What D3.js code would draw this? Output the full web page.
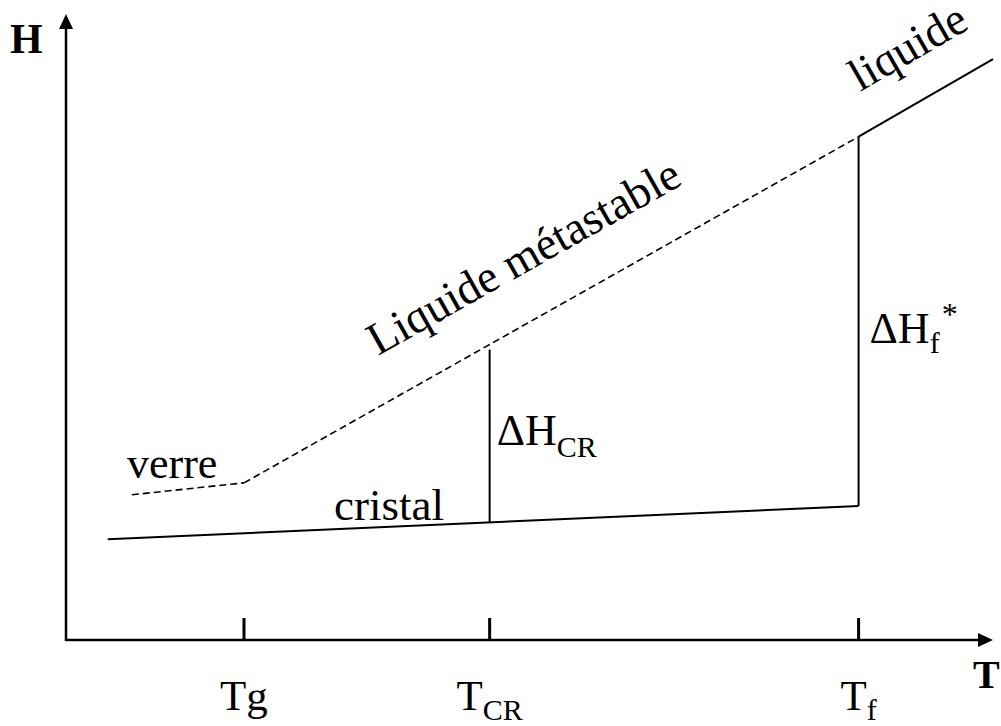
<!DOCTYPE html>
<html>
<head>
<meta charset="utf-8">
<script src="https://d3js.org/d3.v7.min.js"></script>
<style>
  html, body { margin: 0; padding: 0; background: #fff; }
  svg { display: block; }
</style>
</head>
<body>
<svg id="chart" width="1001" height="726" font-family="'Liberation Serif', 'Times New Roman', Times, 'DejaVu Serif', serif"></svg>
<script>
// Enthalpy H versus temperature T (arbitrary units, 0–100 on both axes)
const tickNames = ["Tg", "T_CR", "T_f"];
const tickValues = [19.2, 45.7, 85.5];

// Stable crystal branch
const crystal = [[4.5, 16.1], [85.5, 21.4]];
// Glass branch below Tg
const glass = [[7.1, 23.2], [19.2, 25.1]];
// Supercooled (metastable) liquid between Tg and Tf
const metastable = [[19.2, 25.1], [85.5, 80.4]];
// Stable liquid above Tf
const liquid = [[85.5, 80.4], [100, 92.8]];
// Enthalpy jumps: [T, H crystal, H liquid]
const deltaCR = [45.7, 18.8, 46.4];
const deltaF = [85.5, 21.4, 80.4];

const FONT = "'Liberation Serif', 'Times New Roman', Times, 'DejaVu Serif', serif";
const svg = d3.select("#chart");
const x = d3.scaleLinear().domain([0, 100]).range([66, 993]);
const y = d3.scaleLinear().domain([0, 100]).range([640, 14]);
const line = d3.line().x(d => x(d[0])).y(d => y(d[1]));

const label = (sel) => sel.append("text").attr("font-family", FONT).attr("fill", "#000");

// Axes with arrowheads
const x0 = x(0), y0 = y(0);
svg.append("line").attr("x1", x0).attr("y1", y0).attr("x2", x(100) - 12).attr("y2", y0)
  .attr("stroke", "#000").attr("stroke-width", 2.5);
svg.append("line").attr("x1", x0).attr("y1", y0 + 1).attr("x2", x0).attr("y2", y(100) + 12)
  .attr("stroke", "#000").attr("stroke-width", 2.5);
svg.append("path")
  .attr("d", `M${x(100)},${y0} L${x(100) - 15},${y0 - 7} L${x(100) - 15},${y0 + 7} Z`)
  .attr("fill", "#000");
svg.append("path")
  .attr("d", `M${x0},${y(100)} L${x0 - 7},${y(100) + 15} L${x0 + 7},${y(100) + 15} Z`)
  .attr("fill", "#000");

// Temperature ticks
svg.selectAll("line.tick").data(tickValues).enter().append("line")
  .attr("class", "tick")
  .attr("x1", d => x(d)).attr("x2", d => x(d))
  .attr("y1", y0 - 22).attr("y2", y0)
  .attr("stroke", "#000").attr("stroke-width", 3);

// Tick labels with optional subscript
tickNames.forEach((name, i) => {
  const parts = name.split("_");
  const t = label(svg)
    .attr("x", x(tickValues[i]))
    .attr("y", 710)
    .attr("text-anchor", "middle")
    .attr("font-size", 43);
  t.append("tspan").text(parts[0]);
  if (parts[1]) {
    t.append("tspan").attr("font-size", 30).attr("dy", 10).text(parts[1]);
  }
});

// Axis names
label(svg).attr("x", 10).attr("y", 53).attr("font-size", 42)
  .attr("font-weight", "bold").text("H");
label(svg).attr("x", 973).attr("y", 688).attr("font-size", 40)
  .attr("font-weight", "bold").text("T");

// Curves
svg.append("path").attr("d", line(crystal)).attr("fill", "none")
  .attr("stroke", "#000").attr("stroke-width", 2);
svg.append("path").attr("d", line(glass)).attr("fill", "none")
  .attr("stroke", "#000").attr("stroke-width", 1.6).attr("stroke-dasharray", "7,4");
svg.append("path").attr("d", line(metastable)).attr("fill", "none")
  .attr("stroke", "#000").attr("stroke-width", 1.6).attr("stroke-dasharray", "7,4");
svg.append("path").attr("d", line(liquid)).attr("fill", "none")
  .attr("stroke", "#000").attr("stroke-width", 2);

// Vertical enthalpy jumps
[deltaCR, deltaF].forEach(d => {
  svg.append("line")
    .attr("x1", x(d[0])).attr("x2", x(d[0]))
    .attr("y1", y(d[1])).attr("y2", y(d[2]))
    .attr("stroke", "#000").attr("stroke-width", 2);
});

// Branch labels
label(svg).attr("x", 127).attr("y", 478).attr("font-size", 44).text("verre");
label(svg).attr("x", 334).attr("y", 520).attr("font-size", 45).text("cristal");

const slopeAngle = seg => Math.atan2(y(seg[1][1]) - y(seg[0][1]), x(seg[1][0]) - x(seg[0][0])) * 180 / Math.PI;
const aMeta = slopeAngle(metastable);
label(svg)
  .attr("transform", `translate(378,356) rotate(${aMeta})`)
  .attr("font-size", 46).text("Liquide métastable");
const aLiq = slopeAngle(liquid);
label(svg)
  .attr("transform", `translate(860,92) rotate(${aLiq})`)
  .attr("font-size", 46).text("liquide");

// Jump labels
const dCR = label(svg).attr("x", x(deltaCR[0]) + 7).attr("y", 445).attr("font-size", 44);
dCR.append("tspan").text("ΔH");
dCR.append("tspan").attr("font-size", 30).attr("dy", 12).text("CR");

const dF = label(svg).attr("x", x(deltaF[0]) + 11).attr("y", 343).attr("font-size", 44);
dF.append("tspan").text("ΔH");
dF.append("tspan").attr("font-size", 30).attr("dy", 10).text("f");
dF.append("tspan").attr("font-size", 32).attr("dy", -28).attr("dx", 2).text("*");
</script>
</body>
</html>
